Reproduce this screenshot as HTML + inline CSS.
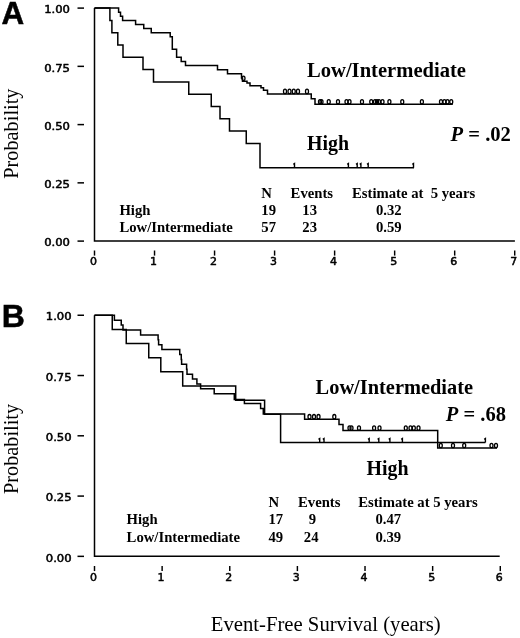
<!DOCTYPE html>
<html><head><meta charset="utf-8"><title>Event-Free Survival</title>
<style>
html,body{margin:0;padding:0;background:#fff;}
svg{display:block;}
.ax{font-family:"DejaVu Sans","Liberation Sans",sans-serif;font-weight:normal;font-size:10.4px;fill:#000;stroke:#000;stroke-width:0.5;stroke-linejoin:round;}
.sb{font-family:"Liberation Serif",serif;font-weight:bold;fill:#000;}
.sr{font-family:"Liberation Serif",serif;fill:#000;}
.pl{font-family:"Liberation Sans",sans-serif;font-weight:bold;fill:#000;stroke:#000;stroke-width:0.5;}
.ln{fill:none;stroke:#000;stroke-width:1.5;stroke-linejoin:miter;stroke-linecap:butt;}
.c{fill:none;stroke:#000;stroke-width:1.3;}
</style></head><body>
<svg width="520" height="638" viewBox="0 0 520 638">
<rect width="520" height="638" fill="#fff"/>
<path class="ln" d="M94.50 8.10 L94.50 241.10 L514.90 241.10"/>
<path class="ln" d="M77.5 8.10 L84 8.10"/>
<text class="ax" x="44.20" y="13.30" textLength="25.8" lengthAdjust="spacingAndGlyphs">1.00</text>
<path class="ln" d="M77.5 66.35 L84 66.35"/>
<text class="ax" x="44.20" y="71.55" textLength="25.8" lengthAdjust="spacingAndGlyphs">0.75</text>
<path class="ln" d="M77.5 124.60 L84 124.60"/>
<text class="ax" x="44.20" y="129.80" textLength="25.8" lengthAdjust="spacingAndGlyphs">0.50</text>
<path class="ln" d="M77.5 182.85 L84 182.85"/>
<text class="ax" x="44.20" y="188.05" textLength="25.8" lengthAdjust="spacingAndGlyphs">0.25</text>
<path class="ln" d="M77.5 241.10 L84 241.10"/>
<text class="ax" x="44.20" y="246.30" textLength="25.8" lengthAdjust="spacingAndGlyphs">0.00</text>
<path class="ln" style="stroke-width:1.45" d="M94.50 250.50 L94.50 255.60"/>
<text class="ax" x="90.00" y="264.70" textLength="7" lengthAdjust="spacingAndGlyphs">0</text>
<path class="ln" style="stroke-width:1.45" d="M154.53 250.50 L154.53 255.60"/>
<text class="ax" x="150.03" y="264.70" textLength="7" lengthAdjust="spacingAndGlyphs">1</text>
<path class="ln" style="stroke-width:1.45" d="M214.56 250.50 L214.56 255.60"/>
<text class="ax" x="210.06" y="264.70" textLength="7" lengthAdjust="spacingAndGlyphs">2</text>
<path class="ln" style="stroke-width:1.45" d="M274.59 250.50 L274.59 255.60"/>
<text class="ax" x="270.09" y="264.70" textLength="7" lengthAdjust="spacingAndGlyphs">3</text>
<path class="ln" style="stroke-width:1.45" d="M334.62 250.50 L334.62 255.60"/>
<text class="ax" x="330.12" y="264.70" textLength="7" lengthAdjust="spacingAndGlyphs">4</text>
<path class="ln" style="stroke-width:1.45" d="M394.65 250.50 L394.65 255.60"/>
<text class="ax" x="390.15" y="264.70" textLength="7" lengthAdjust="spacingAndGlyphs">5</text>
<path class="ln" style="stroke-width:1.45" d="M454.68 250.50 L454.68 255.60"/>
<text class="ax" x="450.18" y="264.70" textLength="7" lengthAdjust="spacingAndGlyphs">6</text>
<path class="ln" style="stroke-width:1.45" d="M514.71 250.50 L514.71 255.60"/>
<text class="ax" x="510.21" y="264.70" textLength="7" lengthAdjust="spacingAndGlyphs">7</text>
<path class="ln" d="M94.50 8.10 L109.90 8.10 L109.90 20.40 L111.90 20.40 L111.90 32.70 L117.80 32.70 L117.80 45.00 L123.00 45.00 L123.00 57.30 L143.00 57.30 L143.00 69.60 L153.50 69.60 L153.50 81.90 L188.75 81.90 L188.75 94.20 L211.25 94.20 L211.25 106.50 L220.00 106.50 L220.00 118.80 L229.50 118.80 L229.50 131.10 L246.25 131.10 L246.25 143.40 L260.00 143.40 L260.00 167.70 L414.00 167.70"/>
<path class="ln" style="stroke-width:1.4" d="M294.50 167.7 L294.50 163.6 L293.30 164.4"/>
<path class="ln" style="stroke-width:1.4" d="M348.40 167.7 L348.40 163.6 L347.20 164.4"/>
<path class="ln" style="stroke-width:1.4" d="M357.20 167.7 L357.20 163.6 L356.00 164.4"/>
<path class="ln" style="stroke-width:1.4" d="M360.90 167.7 L360.90 163.6 L359.70 164.4"/>
<path class="ln" style="stroke-width:1.4" d="M368.20 167.7 L368.20 163.6 L367.00 164.4"/>
<path class="ln" style="stroke-width:1.4" d="M413.50 167.7 L413.50 163.6 L412.30 164.4"/>
<path class="ln" d="M94.50 8.10 L118.60 8.10 L118.60 12.21 L120.50 12.21 L120.50 16.31 L122.60 16.31 L122.60 20.41 L135.60 20.41 L135.60 24.52 L143.75 24.52 L143.75 28.62 L151.25 28.62 L151.25 32.73 L170.20 32.73 L170.20 36.84 L172.30 36.84 L172.30 49.15 L176.60 49.15 L176.60 57.36 L181.20 57.36 L181.20 61.47 L185.50 61.47 L185.50 65.57 L217.50 65.57 L217.50 69.67 L227.50 69.67 L227.50 73.78 L241.50 73.78 L241.50 77.89 L242.50 77.89 L242.50 81.30 L247.00 81.30 L247.00 83.00 L250.00 83.00 L250.00 85.80 L261.00 85.80 L261.00 87.80 L263.50 87.80 L263.50 90.20 L267.50 90.20 L267.50 93.90 L311.25 93.90 L311.25 98.75 L315.00 98.75 L315.00 104.30 L452.75 104.30"/>
<ellipse class="c" cx="243.50" cy="78.30" rx="1.5" ry="2.2"/>
<ellipse class="c" cx="285.00" cy="91.40" rx="1.5" ry="2.2"/>
<ellipse class="c" cx="289.50" cy="91.40" rx="1.5" ry="2.2"/>
<ellipse class="c" cx="293.75" cy="91.40" rx="1.5" ry="2.2"/>
<ellipse class="c" cx="298.00" cy="91.40" rx="1.5" ry="2.2"/>
<ellipse class="c" cx="307.00" cy="91.40" rx="1.5" ry="2.2"/>
<ellipse class="c" cx="320.00" cy="101.80" rx="1.5" ry="2.2"/>
<ellipse class="c" cx="321.50" cy="101.80" rx="1.5" ry="2.2"/>
<ellipse class="c" cx="328.75" cy="101.80" rx="1.5" ry="2.2"/>
<ellipse class="c" cx="338.00" cy="101.80" rx="1.5" ry="2.2"/>
<ellipse class="c" cx="346.50" cy="101.80" rx="1.5" ry="2.2"/>
<ellipse class="c" cx="349.50" cy="101.80" rx="1.5" ry="2.2"/>
<ellipse class="c" cx="362.00" cy="101.80" rx="1.5" ry="2.2"/>
<ellipse class="c" cx="371.25" cy="101.80" rx="1.5" ry="2.2"/>
<ellipse class="c" cx="375.00" cy="101.80" rx="1.5" ry="2.2"/>
<ellipse class="c" cx="377.00" cy="101.80" rx="1.5" ry="2.2"/>
<ellipse class="c" cx="379.00" cy="101.80" rx="1.5" ry="2.2"/>
<ellipse class="c" cx="382.50" cy="101.80" rx="1.5" ry="2.2"/>
<ellipse class="c" cx="389.40" cy="101.80" rx="1.5" ry="2.2"/>
<ellipse class="c" cx="402.25" cy="101.80" rx="1.5" ry="2.2"/>
<ellipse class="c" cx="421.90" cy="101.80" rx="1.5" ry="2.2"/>
<ellipse class="c" cx="441.00" cy="101.80" rx="1.5" ry="2.2"/>
<ellipse class="c" cx="444.40" cy="101.80" rx="1.5" ry="2.2"/>
<ellipse class="c" cx="447.50" cy="101.80" rx="1.5" ry="2.2"/>
<ellipse class="c" cx="451.25" cy="101.80" rx="1.5" ry="2.2"/>
<text class="pl" x="1.6" y="24.3" font-size="31.4">A</text>
<text class="sb" x="307" y="76.5" font-size="20" textLength="159" lengthAdjust="spacingAndGlyphs">Low/Intermediate</text>
<text class="sb" x="307" y="150" font-size="20" textLength="42" lengthAdjust="spacingAndGlyphs">High</text>
<text class="sb" x="450.5" y="140.8" font-size="20.6"><tspan font-style="italic">P</tspan> = .02</text>
<text class="sb" x="261.3" y="197.5" font-size="14.7">N</text>
<text class="sb" x="290.6" y="197.5" font-size="14.7">Events</text>
<text class="sb" x="352.0" y="197.5" font-size="14.7" xml:space="preserve">Estimate at  5 years</text>
<text class="sb" x="119.4" y="214.8" font-size="14.7">High</text>
<text class="sb" x="261.3" y="214.8" font-size="14.7">19</text>
<text class="sb" x="302.3" y="214.8" font-size="14.7">13</text>
<text class="sb" x="376.0" y="214.8" font-size="14.7">0.32</text>
<text class="sb" x="119.4" y="232.4" font-size="14.7">Low/Intermediate</text>
<text class="sb" x="261.3" y="232.4" font-size="14.7">57</text>
<text class="sb" x="302.3" y="232.4" font-size="14.7">23</text>
<text class="sb" x="376.0" y="232.4" font-size="14.7">0.59</text>
<text class="sr" font-size="20.3" transform="translate(18.2 178.7) rotate(-90)">Probability</text>
<path class="ln" d="M94.50 315.25 L94.50 556.35 L499.70 556.35"/>
<path class="ln" d="M77.5 315.25 L84 315.25"/>
<text class="ax" x="45.80" y="320.45" textLength="25.8" lengthAdjust="spacingAndGlyphs">1.00</text>
<path class="ln" d="M77.5 375.52 L84 375.52"/>
<text class="ax" x="45.80" y="380.72" textLength="25.8" lengthAdjust="spacingAndGlyphs">0.75</text>
<path class="ln" d="M77.5 435.80 L84 435.80"/>
<text class="ax" x="45.80" y="441.00" textLength="25.8" lengthAdjust="spacingAndGlyphs">0.50</text>
<path class="ln" d="M77.5 496.08 L84 496.08"/>
<text class="ax" x="45.80" y="501.28" textLength="25.8" lengthAdjust="spacingAndGlyphs">0.25</text>
<path class="ln" d="M77.5 556.35 L84 556.35"/>
<text class="ax" x="45.80" y="561.55" textLength="25.8" lengthAdjust="spacingAndGlyphs">0.00</text>
<path class="ln" style="stroke-width:1.45" d="M94.50 566.00 L94.50 571.10"/>
<text class="ax" x="90.00" y="581.00" textLength="7" lengthAdjust="spacingAndGlyphs">0</text>
<path class="ln" style="stroke-width:1.45" d="M162.13 566.00 L162.13 571.10"/>
<text class="ax" x="157.63" y="581.00" textLength="7" lengthAdjust="spacingAndGlyphs">1</text>
<path class="ln" style="stroke-width:1.45" d="M229.76 566.00 L229.76 571.10"/>
<text class="ax" x="225.26" y="581.00" textLength="7" lengthAdjust="spacingAndGlyphs">2</text>
<path class="ln" style="stroke-width:1.45" d="M297.39 566.00 L297.39 571.10"/>
<text class="ax" x="292.89" y="581.00" textLength="7" lengthAdjust="spacingAndGlyphs">3</text>
<path class="ln" style="stroke-width:1.45" d="M365.02 566.00 L365.02 571.10"/>
<text class="ax" x="360.52" y="581.00" textLength="7" lengthAdjust="spacingAndGlyphs">4</text>
<path class="ln" style="stroke-width:1.45" d="M432.65 566.00 L432.65 571.10"/>
<text class="ax" x="428.15" y="581.00" textLength="7" lengthAdjust="spacingAndGlyphs">5</text>
<path class="ln" style="stroke-width:1.45" d="M500.28 566.00 L500.28 571.10"/>
<text class="ax" x="495.78" y="581.00" textLength="7" lengthAdjust="spacingAndGlyphs">6</text>
<path class="ln" d="M94.50 315.25 L112.25 315.25 L112.25 329.40 L126.25 329.40 L126.25 343.55 L148.75 343.55 L148.75 357.70 L160.80 357.70 L160.80 371.85 L182.70 371.85 L182.70 386.00 L235.70 386.00 L235.70 400.15 L264.60 400.15 L264.60 414.30 L280.60 414.30 L280.60 442.60 L485.40 442.60"/>
<path class="ln" style="stroke-width:1.4" d="M319.70 442.6 L319.70 438.5 L318.50 439.3"/>
<path class="ln" style="stroke-width:1.4" d="M324.00 442.6 L324.00 438.5 L322.80 439.3"/>
<path class="ln" style="stroke-width:1.4" d="M369.20 442.6 L369.20 438.5 L368.00 439.3"/>
<path class="ln" style="stroke-width:1.4" d="M378.80 442.6 L378.80 438.5 L377.60 439.3"/>
<path class="ln" style="stroke-width:1.4" d="M389.90 442.6 L389.90 438.5 L388.70 439.3"/>
<path class="ln" style="stroke-width:1.4" d="M402.40 442.6 L402.40 438.5 L401.20 439.3"/>
<path class="ln" style="stroke-width:1.4" d="M485.40 442.6 L485.40 438.5 L484.20 439.3"/>
<path class="ln" d="M94.50 315.25 L114.40 315.25 L114.40 320.16 L121.25 320.16 L121.25 325.07 L123.00 325.07 L123.00 329.97 L140.60 329.97 L140.60 334.88 L158.10 334.88 L158.10 339.79 L158.60 339.79 L158.60 344.70 L161.90 344.70 L161.90 349.61 L179.75 349.61 L179.75 354.51 L181.25 354.51 L181.25 359.42 L181.60 359.42 L181.60 364.33 L186.60 364.33 L186.60 369.24 L187.00 369.24 L187.00 374.15 L192.50 374.15 L192.50 379.05 L196.90 379.05 L196.90 383.96 L200.60 383.96 L200.60 388.87 L214.20 388.87 L214.20 393.78 L234.30 393.78 L234.30 399.60 L244.40 399.60 L244.40 403.60 L260.60 403.60 L260.60 408.60 L263.30 408.60 L263.30 414.00 L304.60 414.00 L304.60 419.20 L339.00 419.20 L339.00 424.60 L343.00 424.60 L343.00 430.60 L437.70 430.60 L437.70 448.00 L497.00 448.00"/>
<ellipse class="c" cx="309.50" cy="416.70" rx="1.5" ry="2.2"/>
<ellipse class="c" cx="314.00" cy="416.70" rx="1.5" ry="2.2"/>
<ellipse class="c" cx="318.50" cy="416.70" rx="1.5" ry="2.2"/>
<ellipse class="c" cx="334.30" cy="416.70" rx="1.5" ry="2.2"/>
<ellipse class="c" cx="349.50" cy="428.10" rx="1.5" ry="2.2"/>
<ellipse class="c" cx="351.50" cy="428.10" rx="1.5" ry="2.2"/>
<ellipse class="c" cx="359.00" cy="428.10" rx="1.5" ry="2.2"/>
<ellipse class="c" cx="374.10" cy="428.10" rx="1.5" ry="2.2"/>
<ellipse class="c" cx="379.50" cy="428.10" rx="1.5" ry="2.2"/>
<ellipse class="c" cx="405.80" cy="428.10" rx="1.5" ry="2.2"/>
<ellipse class="c" cx="410.50" cy="428.10" rx="1.5" ry="2.2"/>
<ellipse class="c" cx="413.80" cy="428.10" rx="1.5" ry="2.2"/>
<ellipse class="c" cx="418.50" cy="428.10" rx="1.5" ry="2.2"/>
<ellipse class="c" cx="440.80" cy="445.50" rx="1.5" ry="2.2"/>
<ellipse class="c" cx="453.00" cy="445.50" rx="1.5" ry="2.2"/>
<ellipse class="c" cx="464.20" cy="445.50" rx="1.5" ry="2.2"/>
<ellipse class="c" cx="491.50" cy="445.50" rx="1.5" ry="2.2"/>
<ellipse class="c" cx="496.00" cy="445.50" rx="1.5" ry="2.2"/>
<text class="pl" x="1.8" y="327.3" font-size="32">B</text>
<text class="sb" x="315.6" y="393.9" font-size="20" textLength="157.4" lengthAdjust="spacingAndGlyphs">Low/Intermediate</text>
<text class="sb" x="366.5" y="475" font-size="20" textLength="42" lengthAdjust="spacingAndGlyphs">High</text>
<text class="sb" x="445.8" y="420.8" font-size="20.5"><tspan font-style="italic">P</tspan> = .68</text>
<text class="sb" x="268.4" y="506.6" font-size="14.7">N</text>
<text class="sb" x="298.0" y="506.6" font-size="14.7">Events</text>
<text class="sb" x="358.2" y="506.6" font-size="14.7" xml:space="preserve">Estimate at 5 years</text>
<text class="sb" x="126.6" y="523.8" font-size="14.7">High</text>
<text class="sb" x="268.4" y="523.8" font-size="14.7">17</text>
<text class="sb" x="308.8" y="523.8" font-size="14.7">9</text>
<text class="sb" x="375.4" y="523.8" font-size="14.7">0.47</text>
<text class="sb" x="126.6" y="541.8" font-size="14.7">Low/Intermediate</text>
<text class="sb" x="268.4" y="541.8" font-size="14.7">49</text>
<text class="sb" x="303.8" y="541.8" font-size="14.7">24</text>
<text class="sb" x="375.4" y="541.8" font-size="14.7">0.39</text>
<text class="sr" font-size="20.3" transform="translate(18.2 494) rotate(-90)">Probability</text>
<text class="sr" x="210.8" y="630.6" font-size="20.7">Event-Free Survival (years)</text>
</svg></body></html>
